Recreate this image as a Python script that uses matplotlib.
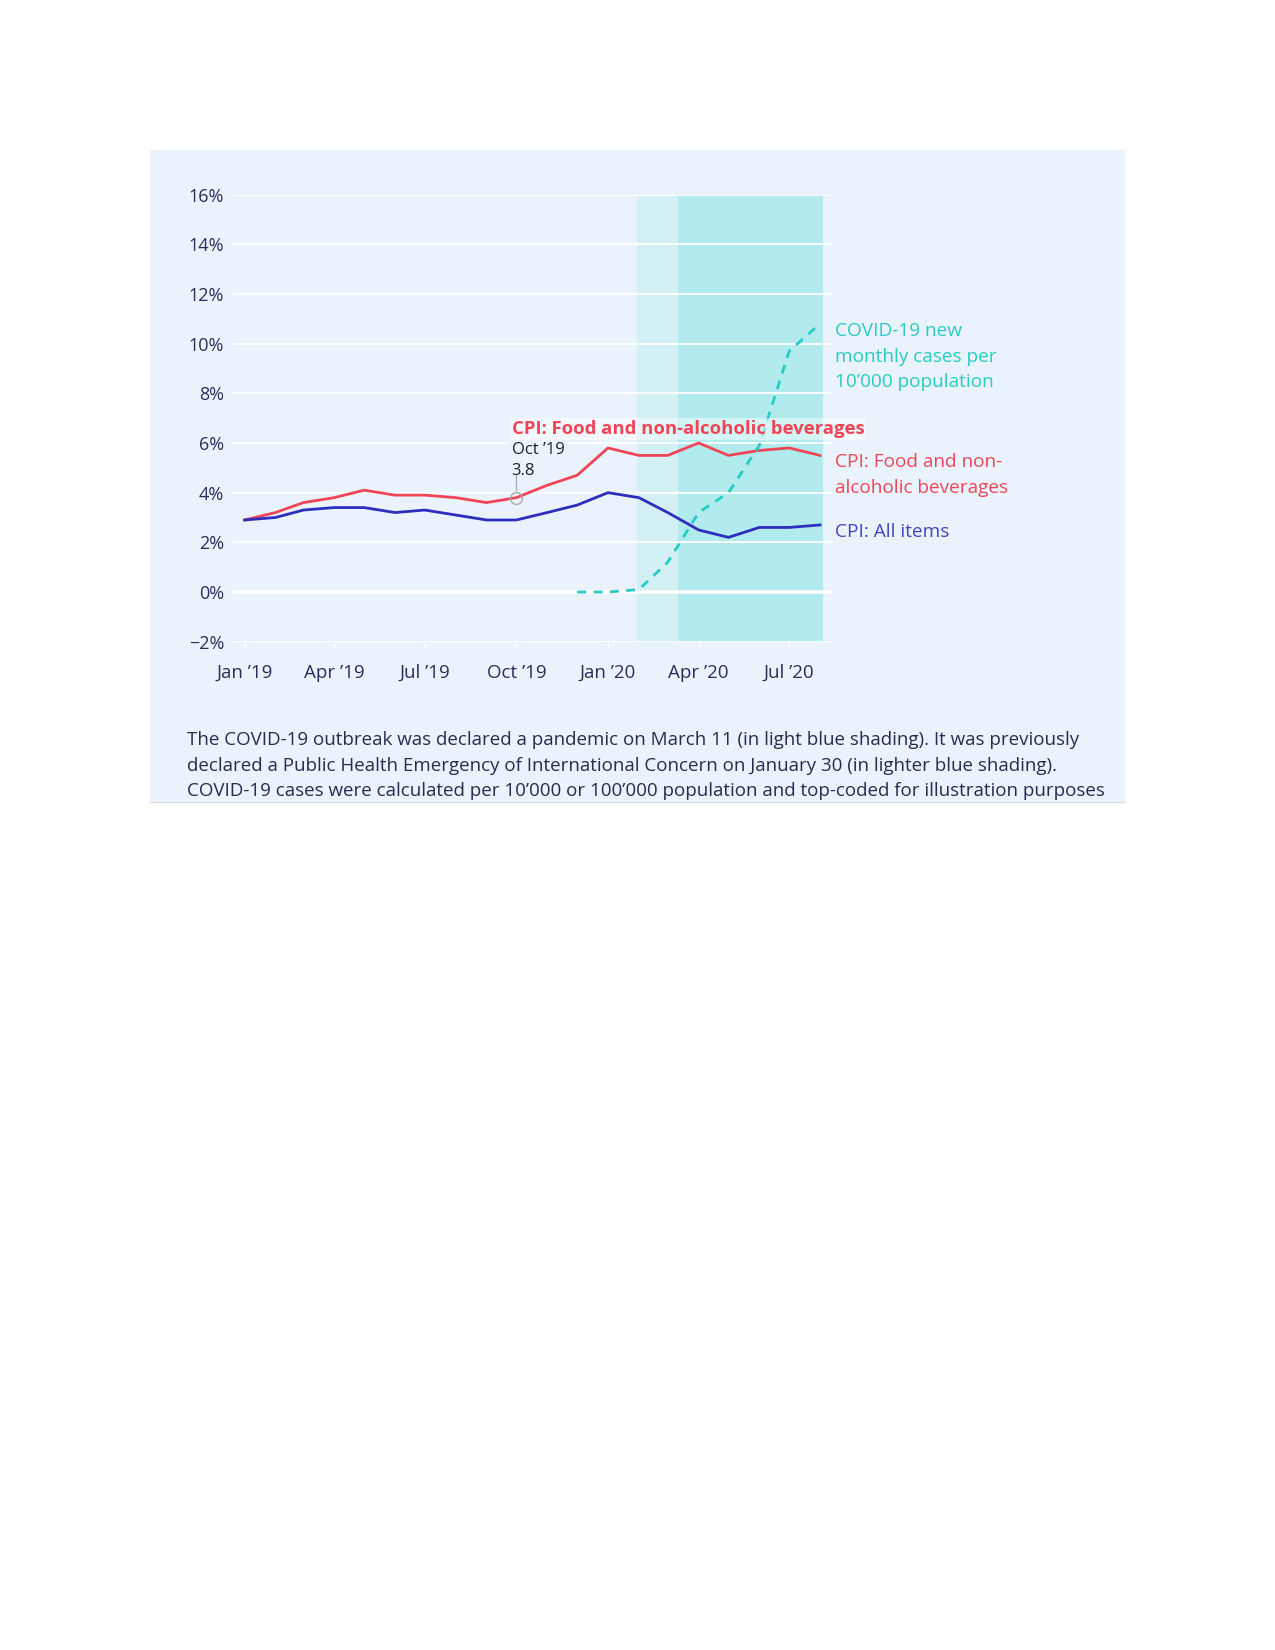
import matplotlib
matplotlib.use("Agg")
import matplotlib.pyplot as plt
from matplotlib.patches import Rectangle
from matplotlib.lines import Line2D
import pandas as pd

plt.rcParams['font.family'] = ['Open Sans', 'DejaVu Sans']

# ---------------- data ----------------
months = ["2019-01", "2019-02", "2019-03", "2019-04", "2019-05", "2019-06",
          "2019-07", "2019-08", "2019-09", "2019-10", "2019-11", "2019-12",
          "2020-01", "2020-02", "2020-03", "2020-04", "2020-05", "2020-06",
          "2020-07", "2020-08"]
cpi_food = [2.9, 3.2, 3.6, 3.8, 4.1, 3.9, 3.9, 3.8, 3.6, 3.8, 4.3, 4.7,
            5.8, 5.5, 5.5, 6.0, 5.5, 5.7, 5.8, 5.5]
cpi_all = [2.9, 3.0, 3.3, 3.4, 3.4, 3.2, 3.3, 3.1, 2.9, 2.9, 3.2, 3.5,
           4.0, 3.8, 3.2, 2.5, 2.2, 2.6, 2.6, 2.7]
covid_months = ["2019-12", "2020-01", "2020-02", "2020-03", "2020-04",
                "2020-05", "2020-06", "2020-07", "2020-08"]
covid_cases = [0.0, 0.0, 0.1, 1.2, 3.2, 4.0, 5.9, 9.7, 10.8]

ytick_vals = [-2, 0, 2, 4, 6, 8, 10, 12, 14, 16]
ytick_labels = ["\u22122%", "0%", "2%", "4%", "6%", "8%", "10%", "12%", "14%", "16%"]
xtick_dates = ["2019-01", "2019-04", "2019-07", "2019-10", "2020-01", "2020-04", "2020-07"]
xtick_labels = ["Jan \u201919", "Apr \u201919", "Jul \u201919", "Oct \u201919",
                "Jan \u201920", "Apr \u201920", "Jul \u201920"]

phe_start = "2020-01-30"
pandemic_start = "2020-03-11"
shade_end = "2020-08-04"

hover_month = "2019-10"
hover_value = 3.8

caption = ("The COVID-19 outbreak was declared a pandemic on March 11 (in light blue shading). It was previously\n"
           "declared a Public Health Emergency of International Concern on January 30 (in lighter blue shading).\n"
           "COVID-19 cases were calculated per 10\u2019000 or 100\u2019000 population and top-coded for illustration purposes")

# ---------------- styles ----------------
PAPER = "#EAF3FC"
LIGHT_SHADE = "#D3F0F4"
DARK_SHADE = "#B2EBEE"
RED = "#EF4556"
BLUE = "#2D2DBE"
CYAN = "#25CCC6"
TICK_COLOR = "#2E2C5C"
W, H = 1275, 1650

x = pd.to_datetime(months)
xc = pd.to_datetime(covid_months)

fig = plt.figure(figsize=(W / 100, H / 100), dpi=100)
fig.patch.set_facecolor("white")

# paper background box
fig.patches.append(Rectangle((150 / W, 1 - 802 / H), 975 / W, 652 / H,
                             transform=fig.transFigure, facecolor=PAPER,
                             edgecolor="none", zorder=-10))
fig.lines.append(Line2D([150 / W, 1125 / W], [1 - 802 / H, 1 - 802 / H],
                        transform=fig.transFigure, color="#D8DCE2", lw=0.8, zorder=-9))

ax = fig.add_axes([231.7 / W, 1 - 641.7 / H, (833 - 231.7) / W, (641.7 - 194.6) / H])
ax.set_facecolor(PAPER)
for s in ax.spines.values():
    s.set_visible(False)

ax.set_xlim(pd.Timestamp("2018-12-19"), pd.Timestamp("2020-08-14"))
ax.set_ylim(-2, 16)

# shading
ax.axvspan(pd.Timestamp(phe_start), pd.Timestamp(pandemic_start), color=LIGHT_SHADE, zorder=0.5, lw=0)
ax.axvspan(pd.Timestamp(pandemic_start), pd.Timestamp(shade_end), color=DARK_SHADE, zorder=0.5, lw=0)

# grid
ax.set_yticks(ytick_vals)
ax.set_yticklabels(ytick_labels)
ax.set_axisbelow('line')
ax.yaxis.grid(True, color="white", lw=1.3)
ax.axhline(0, color="white", lw=2.6, zorder=1.6)

ax.set_xticks(pd.to_datetime(xtick_dates))
ax.set_xticklabels(xtick_labels)
ax.tick_params(axis='y', length=0, pad=5.5, labelsize=13, labelcolor=TICK_COLOR)
ax.tick_params(axis='x', length=4, width=1, color="white", pad=12, labelsize=13.5, labelcolor=TICK_COLOR)

# lines
ax.plot(x, cpi_food, color=RED, lw=2.0, zorder=3, solid_joinstyle='round')
ax.plot(x, cpi_all, color=BLUE, lw=2.0, zorder=3, solid_joinstyle='round')
ax.plot(xc, covid_cases, color=CYAN, lw=2.0, zorder=3, linestyle=(0, (3.2, 2.7)))

# end labels
lab_kw = dict(textcoords='offset points', ha='left', va='top', fontsize=13.7, linespacing=1.56,
              annotation_clip=False)
ax.annotate("COVID-19 new\nmonthly cases per\n10\u2019000 population", xy=(xc[-1], covid_cases[-1]),
            xytext=(10.5, 1.5), color=CYAN, **lab_kw)
ax.annotate("CPI: Food and non-\nalcoholic beverages", xy=(x[-1], cpi_food[-1]),
            xytext=(10.5, 1.5), color=RED, **lab_kw)
ax.annotate("CPI: All items", xy=(x[-1], cpi_all[-1]),
            xytext=(10.5, 1.5), color="#4444C8", **lab_kw)

# hover marker
hx = pd.Timestamp(hover_month)
ax.plot([hx], [hover_value], marker='o', ms=8.5, mfc='none', mec="#AAAAAA", mew=1.0, zorder=4)
ax.annotate("", xy=(hx, hover_value), xytext=(0, 16), textcoords='offset points',
            arrowprops=dict(arrowstyle='-', color="#AAAAAA", lw=0.9, shrinkA=0, shrinkB=5))
# hover label (box below the lines, above the gridlines)
ax.annotate("Oct \u201919\n3.8", xy=(hx, hover_value), xytext=(-3.5, 13.4), textcoords='offset points',
            ha='left', va='bottom', fontsize=12, color="#222222", linespacing=1.41, zorder=2.5,
            bbox=dict(boxstyle='square,pad=0.15', fc=PAPER, ec='none', alpha=0.9))
ax.annotate("CPI: Food and non-alcoholic beverages", xy=(hx, hover_value), xytext=(-3.5, 43),
            textcoords='offset points', ha='left', va='bottom', fontsize=13.3, fontweight='bold',
            color=RED, zorder=5,
            bbox=dict(boxstyle='square,pad=0.1', fc="white", ec='none', alpha=0.45))

# caption
fig.text(187 / W, 1 - 731 / H, caption, ha='left', va='top', fontsize=13.5,
         color="#2B2A50", linespacing=1.54)

fig.savefig("out.png", dpi=100, facecolor="white")
